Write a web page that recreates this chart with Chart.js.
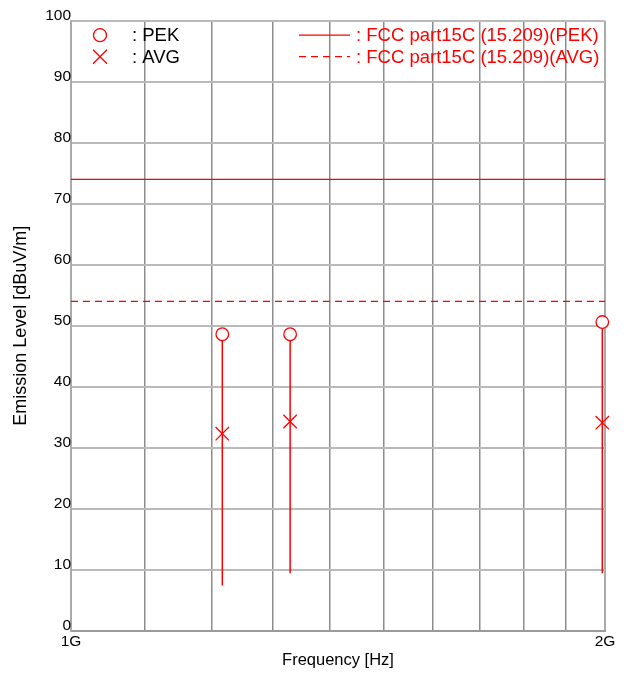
<!DOCTYPE html>
<html>
<head>
<meta charset="utf-8">
<title>Emission Level</title>
<script src="https://cdn.jsdelivr.net/npm/chart.js@4.4.1/dist/chart.umd.min.js"></script>
<style>
  html, body { margin: 0; padding: 0; background: #fff; }
  #wrap { width: 629px; height: 674px; }
</style>
</head>
<body>
<div id="wrap"><canvas id="chart" width="629" height="674"></canvas></div>
<script>
// ── Data ─────────────────────────────────────────────
const frequencies = [1.217e9, 1.329e9, 1.993e9];   // Hz
const peakValues  = [48.6, 48.6, 50.6];           // dBuV/m
const avgValues   = [32.3, 34.3, 34.1];
const floorValues = [7.4, 9.4, 9.4];              // bottom of each stem

const limitPeak = 74;   // FCC part15C (15.209)(PEK)
const limitAvg  = 54;   // FCC part15C (15.209)(AVG)

const xTicks      = [1e9, 1.1e9, 1.2e9, 1.3e9, 1.4e9, 1.5e9, 1.6e9, 1.7e9, 1.8e9, 1.9e9, 2e9];
const xTickLabels = ['1G', '', '', '', '', '', '', '', '', '', '2G'];
const yTicks      = [0, 10, 20, 30, 40, 50, 60, 70, 80, 90, 100];

const RED  = '#ff0000';
const FONT = "'Liberation Sans', Arial, sans-serif";

// ── Stems: floor → peak, separated by gaps ───────────
const stemPoints = [];
frequencies.forEach((f, i) => {
  stemPoints.push({ x: f, y: floorValues[i] });
  stemPoints.push({ x: f, y: peakValues[i] });
  stemPoints.push({ x: f, y: null });
});

// ── Legend drawn inside the plot area ────────────────
const legendPlugin = {
  id: 'inPlotLegend',
  afterDraw(chart) {
    const { ctx, chartArea: a } = chart;
    const row1 = a.top + 14.5, row2 = a.top + 36;
    ctx.save();
    ctx.lineWidth = 1.3;
    ctx.strokeStyle = RED;

    // left column: markers
    const mx = a.left + 29;
    ctx.beginPath();
    ctx.arc(mx, row1, 6.5, 0, Math.PI * 2);
    ctx.stroke();
    ctx.beginPath();
    ctx.moveTo(mx - 7, row2 - 7); ctx.lineTo(mx + 7, row2 + 7);
    ctx.moveTo(mx + 7, row2 - 7); ctx.lineTo(mx - 7, row2 + 7);
    ctx.stroke();

    ctx.font = '18.5px ' + FONT;
    ctx.textBaseline = 'middle';
    ctx.textAlign = 'left';
    ctx.fillStyle = '#000';
    ctx.fillText(': PEK', a.left + 61, row1 + 1);
    ctx.fillText(': AVG', a.left + 61, row2 + 1);

    // right column: limit lines
    const lx0 = a.left + 228, lx1 = a.left + 279;
    ctx.lineWidth = 1.2;
    ctx.beginPath();
    ctx.moveTo(lx0, row1); ctx.lineTo(lx1, row1);
    ctx.stroke();
    ctx.setLineDash([7, 5]);
    ctx.beginPath();
    ctx.moveTo(lx0, row2); ctx.lineTo(lx1, row2);
    ctx.stroke();
    ctx.setLineDash([]);

    ctx.fillStyle = RED;
    ctx.fillText(': FCC part15C (15.209)(PEK)', a.left + 285, row1 + 1);
    ctx.fillText(': FCC part15C (15.209)(AVG)', a.left + 285, row2 + 1);
    ctx.restore();
  }
};

new Chart(document.getElementById('chart'), {
  type: 'scatter',
  data: {
    datasets: [
      {
        label: 'FCC part15C (15.209)(PEK)',
        type: 'line',
        data: [{ x: xTicks[0], y: limitPeak }, { x: xTicks[xTicks.length - 1], y: limitPeak }],
        borderColor: RED, borderWidth: 1.3, pointRadius: 0, order: 5,
      },
      {
        label: 'FCC part15C (15.209)(AVG)',
        type: 'line',
        data: [{ x: xTicks[0], y: limitAvg }, { x: xTicks[xTicks.length - 1], y: limitAvg }],
        borderColor: RED, borderWidth: 1.3, borderDash: [7, 5], pointRadius: 0, order: 5,
      },
      {
        label: 'stems',
        type: 'line',
        data: stemPoints,
        borderColor: RED, borderWidth: 1.5, pointRadius: 0, spanGaps: false, order: 3,
      },
      {
        label: 'PEK',
        data: frequencies.map((f, i) => ({ x: f, y: peakValues[i] })),
        pointStyle: 'circle', pointRadius: 6.3, pointBorderWidth: 1.3,
        borderColor: RED, backgroundColor: '#fff', order: 1, clip: false,
      },
      {
        label: 'AVG',
        data: frequencies.map((f, i) => ({ x: f, y: avgValues[i] })),
        pointStyle: 'crossRot', pointRadius: 9.5, pointBorderWidth: 1.3,
        borderColor: RED, backgroundColor: RED, order: 1, clip: false,
      },
    ],
  },
  options: {
    responsive: false,
    animation: false,
    events: [],
    layout: { padding: { left: 0, right: 24, top: 20.7, bottom: 0 } },
    plugins: {
      legend: { display: false },
      tooltip: { enabled: false },
    },
    scales: {
      x: {
        type: 'logarithmic',
        min: xTicks[0],
        max: xTicks[xTicks.length - 1],
        afterBuildTicks: scale => { scale.ticks = xTicks.map(v => ({ value: v })); },
        afterFit: scale => { scale.height = 43.3; },
        ticks: {
          autoSkip: false, maxRotation: 0, padding: 2,
          color: '#000', font: { family: FONT, size: 15.5 },
          callback: (v, i) => xTickLabels[i],
        },
        grid: {
          drawTicks: false,
          color: ctx => (ctx.index === 0 || ctx.index === xTicks.length - 1) ? '#aaaaaa' : '#8c8c8c',
          lineWidth: ctx => (ctx.index === 0 || ctx.index === xTicks.length - 1) ? 2 : 1.5,
        },
        border: { display: true, color: '#9a9a9a', width: 2 },
        title: {
          display: true, text: 'Frequency [Hz]', color: '#000',
          font: { family: FONT, size: 16.5 }, padding: { top: 0, bottom: 4 },
        },
      },
      y: {
        min: yTicks[0],
        max: yTicks[yTicks.length - 1],
        afterBuildTicks: scale => { scale.ticks = yTicks.map(v => ({ value: v })); },
        afterFit: scale => { scale.width = 71; },
        ticks: {
          padding: 0, labelOffset: -5,
          color: '#000', font: { family: FONT, size: 15.5 },
        },
        grid: { drawTicks: false, color: '#bababa', lineWidth: 2 },
        border: { display: true, color: '#aaaaaa', width: 2 },
        title: {
          display: true, text: 'Emission Level [dBuV/m]', color: '#000',
          font: { family: FONT, size: 18 }, padding: { top: 10, bottom: 0 },
        },
      },
    },
  },
  plugins: [legendPlugin],
});
</script>
</body>
</html>
